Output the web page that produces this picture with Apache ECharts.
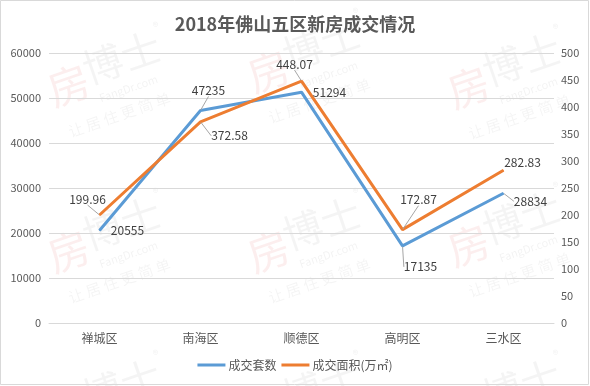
<!DOCTYPE html>
<html><head><meta charset="utf-8">
<script src="https://cdn.jsdelivr.net/npm/echarts@6/dist/echarts.min.js"></script>
<style>html,body{margin:0;padding:0;background:#fff}#c{width:590px;height:386px}</style>
</head><body><div id="c"></div>
<script>
const categories = ['禅城区','南海区','顺德区','高明区','三水区'];
const dealCount = [20555, 47235, 51294, 17135, 28834];
const dealArea = [199.96, 372.58, 448.07, 172.87, 282.83];
const leftTicks = {min:0, max:60000, interval:10000};
const rightTicks = {min:0, max:500, interval:50};

// label placement (style only)
const countOffsets = [[28,0],[8,-20],[28,0],[18,21],[27,8]];
const countLeader = [false,true,false,true,true];
const areaOffsets = [[-12,-16],[29,14],[-7,-17],[16,-30],[19,-8]];
const areaLeader = [true,true,true,true,false];

const FONT = '"Noto Sans CJK SC","Microsoft YaHei",sans-serif';
const chart = echarts.init(document.getElementById('c'));

function mkData(vals, leaders){
  return vals.map((v,i)=>({value:v, labelLine:{show:leaders[i]}}));
}
function wm(x,y){
  return {type:'group', x:x, y:y, rotation:0.33, silent:true, z:-10, children:[
    {type:'text', x:0, y:0, style:{text:'房', font:'42px '+FONT, fill:'rgba(225,90,90,0.10)'}},
    {type:'text', x:40, y:-8, style:{text:'博士', font:'40px '+FONT, fill:'rgba(0,0,0,0.045)'}},
    {type:'text', x:120, y:-12, style:{text:'®', font:'12px '+FONT, fill:'rgba(0,0,0,0.06)'}},
    {type:'text', x:46, y:38, style:{text:'FangDr.com', font:'11px '+FONT, fill:'rgba(0,0,0,0.05)'}},
    {type:'text', x:6, y:58, style:{text:'让 居 住 更 简 单', font:'15px '+FONT, fill:'rgba(0,0,0,0.045)'}}
  ]};
}

chart.setOption({
  backgroundColor:'#fff',
  animation:false,
  title:{text:'2018年佛山五区新房成交情况', left:'center', top:10,
    textStyle:{fontFamily:FONT, fontSize:18, fontWeight:'bold', color:'#595959'}},
  graphic:[
    wm(42,72), wm(242,58), wm(442,74),
    wm(42,238), wm(242,238), wm(442,232),
    wm(42,400), wm(242,400), wm(442,400),
    {type:'rect', shape:{x:0.5,y:0.5,width:588,height:384}, style:{fill:null, stroke:'#d9d9d9', lineWidth:1}, silent:true}
  ],
  legend:{bottom:10, left:'center', itemWidth:28, itemHeight:3, itemGap:5, icon:'rect',
    textStyle:{fontFamily:FONT, fontSize:12, color:'#595959', padding:[0,0,0,-2]},
    data:['成交套数','成交面积(万㎡)']},
  grid:{left:49, right:36, top:53, bottom:63},
  xAxis:{type:'category', data:categories, boundaryGap:true,
    axisLine:{lineStyle:{color:'#d9d9d9'}}, axisTick:{show:false},
    axisLabel:{fontFamily:FONT, fontSize:12, color:'#595959', margin:9}},
  yAxis:[
    {type:'value', min:leftTicks.min, max:leftTicks.max, interval:leftTicks.interval,
     axisLine:{show:false}, axisTick:{show:false},
     axisLabel:{fontFamily:FONT, fontSize:11, color:'#595959', margin:8, formatter:function(v){return String(v);}},
     splitLine:{lineStyle:{color:'#d9d9d9'}}},
    {type:'value', min:rightTicks.min, max:rightTicks.max, interval:rightTicks.interval,
     axisLine:{show:false}, axisTick:{show:false},
     axisLabel:{fontFamily:FONT, fontSize:11, color:'#595959', margin:7, formatter:function(v){return String(v);}},
     splitLine:{show:false}}
  ],
  series:[
    {name:'成交套数', type:'line', yAxisIndex:0, data:mkData(dealCount,countLeader),
     symbol:'circle', symbolSize:1, showSymbol:true,
     lineStyle:{width:3, color:'#5B9BD5'}, itemStyle:{color:'#5B9BD5'},
     label:{show:true, position:'inside', fontFamily:FONT, fontSize:12, color:'#404040'},
     labelLine:{lineStyle:{color:'#a6a6a6', width:1}},
     labelLayout:function(p){const o=countOffsets[p.dataIndex]; return {dx:o[0], dy:o[1]};}},
    {name:'成交面积(万㎡)', type:'line', yAxisIndex:1, data:mkData(dealArea,areaLeader),
     symbol:'circle', symbolSize:1, showSymbol:true,
     lineStyle:{width:3, color:'#ED7D31'}, itemStyle:{color:'#ED7D31'},
     label:{show:true, position:'inside', fontFamily:FONT, fontSize:12, color:'#404040'},
     labelLine:{lineStyle:{color:'#a6a6a6', width:1}},
     labelLayout:function(p){const o=areaOffsets[p.dataIndex]; return {dx:o[0], dy:o[1]};}}
  ]
});
</script></body></html>
